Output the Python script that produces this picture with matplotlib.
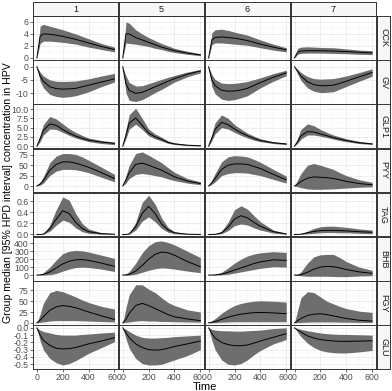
import matplotlib
matplotlib.use("Agg")
import matplotlib.pyplot as plt

plt.rcParams["axes.unicode_minus"] = False
plt.rcParams["font.family"] = ["Liberation Sans", "DejaVu Sans"]

# time grid (minutes) shared by all panels
TIME = [0, 25, 50, 100, 150, 200, 250, 300, 350, 400, 500, 600]
GROUPS = ["1", "5", "6", "7"]
MARKERS = ["CCK", "GV", "GLP1", "PYY", "TAG", "BHB", "FGY", "GLU"]

# one list per group (1, 5, 6, 7): median, lower and upper HPD bound
cck_med = [[0, 3.6, 4.0, 3.95, 3.8, 3.6, 3.35, 3.1, 2.8, 2.5, 1.9, 1.4],
           [0, 4.0, 4.0, 3.4, 3.0, 2.6, 2.2, 1.8, 1.5, 1.2, 0.8, 0.5],
           [0, 3.0, 3.4, 3.5, 3.4, 3.3, 3.1, 2.9, 2.6, 2.3, 1.8, 1.35],
           [0, 1.0, 1.15, 1.2, 1.2, 1.2, 1.18, 1.15, 1.1, 1.05, 0.95, 0.85]]
cck_lo = [[0, 2.4, 2.8, 2.8, 2.7, 2.6, 2.45, 2.3, 2.05, 1.8, 1.4, 1.0],
          [0, 2.5, 2.4, 2.3, 2.1, 1.9, 1.6, 1.4, 1.1, 0.9, 0.6, 0.35],
          [0, 2.2, 2.5, 2.5, 2.4, 2.3, 2.2, 2.1, 1.9, 1.7, 1.3, 1.0],
          [0, 0.6, 0.75, 0.8, 0.8, 0.8, 0.78, 0.75, 0.72, 0.7, 0.6, 0.55]]
cck_hi = [[0, 5.3, 5.6, 5.3, 5.0, 4.7, 4.35, 4.0, 3.6, 3.2, 2.4, 1.8],
          [0, 6.0, 5.8, 4.7, 4.0, 3.4, 2.9, 2.4, 2.0, 1.6, 1.1, 0.7],
          [0, 4.2, 4.7, 4.8, 4.6, 4.3, 4.05, 3.8, 3.4, 3.0, 2.3, 1.7],
          [0, 1.6, 1.8, 1.85, 1.8, 1.75, 1.72, 1.7, 1.6, 1.5, 1.3, 1.2]]

gv_med = [[0, -3.5, -5.5, -7.6, -8.3, -8.5, -8.4, -8.2, -7.6, -7.0, -5.8, -4.6],
          [0, -6.5, -9.0, -10.1, -9.7, -8.7, -7.6, -6.6, -5.5, -4.5, -2.8, -1.6],
          [0, -5.0, -7.2, -8.9, -9.3, -9.2, -8.8, -8.2, -7.1, -6.0, -4.0, -2.3],
          [0, -1.8, -3.5, -5.7, -6.8, -7.2, -7.2, -7.0, -6.3, -5.5, -3.8, -2.2]]
gv_lo = [[0, -5.5, -8.0, -10.5, -11.3, -11.6, -11.4, -11.0, -10.3, -9.5, -7.5, -5.8],
         [0, -10.0, -12.8, -13.2, -12.5, -11.2, -9.8, -8.6, -7.2, -5.8, -3.8, -2.3],
         [0, -7.5, -10.3, -12.3, -12.8, -12.5, -11.8, -11.0, -9.5, -8.0, -5.5, -3.4],
         [0, -2.8, -5.2, -8.0, -9.3, -9.8, -9.7, -9.5, -8.5, -7.5, -5.5, -3.6]]
gv_hi = [[0, -2.0, -3.5, -5.0, -5.5, -5.6, -5.5, -5.4, -5.0, -4.6, -3.5, -2.5],
         [0, -3.5, -6.0, -7.3, -7.2, -6.4, -5.6, -4.8, -4.0, -3.3, -2.0, -1.0],
         [0, -3.0, -4.8, -6.2, -6.4, -6.3, -6.0, -5.6, -4.9, -4.2, -2.6, -1.3],
         [0, -1.0, -2.2, -3.7, -4.5, -4.7, -4.6, -4.5, -4.0, -3.5, -2.2, -0.8]]

glp1_med = [[0, 2.0, 4.2, 6.0, 5.6, 4.5, 3.5, 2.7, 2.1, 1.6, 1.1, 0.75],
            [0, 3.0, 6.2, 7.6, 5.6, 3.5, 2.5, 1.8, 1.0, 0.6, 0.25, 0.1],
            [0, 2.2, 4.5, 6.4, 5.8, 4.6, 3.6, 2.8, 2.1, 1.5, 0.9, 0.6],
            [0, 1.3, 2.8, 3.9, 3.8, 3.3, 2.8, 2.3, 1.9, 1.5, 0.9, 0.6]]
glp1_lo = [[0, 1.2, 3.0, 4.6, 4.5, 3.7, 2.9, 2.2, 1.7, 1.2, 0.7, 0.4],
           [0, 2.0, 4.6, 5.9, 4.5, 2.8, 2.0, 1.4, 0.75, 0.45, 0.15, 0.05],
           [0, 1.5, 3.3, 5.0, 4.6, 3.7, 2.9, 2.2, 1.6, 1.2, 0.7, 0.4],
           [0, 0.8, 1.9, 3.0, 3.0, 2.7, 2.3, 1.9, 1.5, 1.2, 0.7, 0.45]]
glp1_hi = [[0, 3.0, 5.8, 8.0, 7.3, 6.0, 4.7, 3.7, 2.9, 2.2, 1.5, 1.1],
           [0, 4.5, 8.5, 10.2, 7.5, 4.6, 3.3, 2.4, 1.4, 0.9, 0.4, 0.2],
           [0, 3.3, 6.3, 8.4, 7.5, 5.8, 4.6, 3.5, 2.7, 2.0, 1.2, 0.8],
           [0, 2.2, 4.5, 6.0, 5.5, 4.5, 3.7, 3.0, 2.5, 2.0, 1.3, 0.85]]

pyy_med = [[0, 5, 13, 38, 52, 58, 58, 55, 50, 45, 32, 18],
           [0, 15, 32, 52, 55, 50, 44, 38, 30, 22, 12, 6],
           [0, 8, 18, 40, 50, 53, 53, 52, 47, 42, 28, 15],
           [0, 5, 11, 19, 22, 21, 20, 18, 15, 11, 6, 3]]
pyy_lo = [[0, 2, 7, 25, 36, 40, 40, 39, 36, 32, 21, 10],
          [0, 7, 18, 28, 30, 28, 25, 22, 17, 13, 7, 3],
          [0, 4, 10, 25, 30, 32, 32, 31, 28, 25, 16, 7],
          [0, -2, -4, -7, -8, -8, -7.5, -7, -6, -5, -3, -2]]
pyy_hi = [[0, 9, 22, 56, 72, 78, 78, 76, 70, 62, 45, 28],
          [0, 25, 50, 78, 82, 74, 65, 56, 44, 33, 18, 10],
          [0, 14, 30, 58, 70, 73, 72, 70, 64, 57, 40, 24],
          [0, 15, 30, 50, 54, 50, 45, 40, 32, 25, 15, 9]]

tag_med = [[0, 0, 0.005, 0.10, 0.28, 0.43, 0.38, 0.22, 0.11, 0.05, 0.015, 0.005],
           [0, 0, 0.01, 0.14, 0.38, 0.51, 0.38, 0.19, 0.08, 0.03, 0.005, 0],
           [0, 0, 0.002, 0.03, 0.13, 0.28, 0.34, 0.30, 0.22, 0.15, 0.05, 0.01],
           [0, 0, 0.005, 0.03, 0.055, 0.07, 0.075, 0.075, 0.07, 0.065, 0.05, 0.04]]
tag_lo = [[0, 0, 0.002, 0.06, 0.17, 0.26, 0.22, 0.12, 0.05, 0.02, 0.005, 0.002],
          [0, 0, 0.005, 0.08, 0.24, 0.32, 0.23, 0.11, 0.04, 0.015, 0.002, 0],
          [0, 0, 0.001, 0.015, 0.07, 0.16, 0.19, 0.17, 0.12, 0.08, 0.025, 0.005],
          [0, 0, 0.002, 0.012, 0.02, 0.03, 0.035, 0.035, 0.03, 0.03, 0.02, 0.015]]
tag_hi = [[0, 0, 0.01, 0.17, 0.45, 0.68, 0.62, 0.38, 0.2, 0.10, 0.03, 0.01],
          [0, 0, 0.02, 0.22, 0.58, 0.71, 0.55, 0.30, 0.13, 0.05, 0.01, 0.002],
          [0, 0, 0.004, 0.06, 0.22, 0.45, 0.52, 0.46, 0.34, 0.23, 0.08, 0.02],
          [0, 0, 0.01, 0.06, 0.11, 0.14, 0.15, 0.15, 0.14, 0.13, 0.10, 0.08]]

bhb_med = [[0, 2, 8, 40, 90, 140, 175, 192, 195, 185, 150, 110],
           [0, 2, 8, 50, 120, 200, 260, 290, 280, 250, 170, 105],
           [0, 0, 2, 12, 35, 62, 90, 117, 145, 166, 192, 185],
           [0, 0, 5, 35, 75, 100, 110, 105, 90, 70, 40, 22]]
bhb_lo = [[0, 0, 0, 5, 20, 50, 75, 95, 100, 95, 75, 45],
          [0, 0, 0, 10, 35, 60, 80, 90, 85, 75, 50, 30],
          [0, 0, 0, 2, 10, 25, 40, 55, 70, 85, 105, 100],
          [0, -5, -10, -15, -15, -15, -15, -18, -20, -20, -12, -8]]
bhb_hi = [[0, 10, 30, 100, 190, 270, 300, 310, 305, 290, 250, 210],
          [0, 15, 45, 150, 280, 370, 420, 430, 410, 380, 300, 220],
          [0, 2, 8, 35, 90, 150, 200, 240, 265, 280, 295, 285],
          [0, 10, 40, 150, 230, 255, 260, 260, 220, 170, 100, 60]]

fgy_med = [[0, 6, 14, 29, 37, 40, 38, 35, 30, 25, 16, 8],
           [0, 8, 22, 40, 45, 40, 33, 26, 19, 14, 9, 5],
           [0, 1, 3, 8, 13, 17, 20, 22, 23.5, 24, 23, 21],
           [0, 5, 10, 17, 20, 21, 19, 16, 13, 10, 6, 4]]
fgy_lo = [[0, 1, 2, 4, 5, 5, 5, 5, 4.5, 4, 3, 2],
          [0, 1, 2, 4, 5, 4, 4, 3, 3, 2.5, 2, 1.5],
          [0, 0, 0.5, 1.5, 2, 2.5, 2.5, 2.5, 2.5, 2.5, 2.5, 2.5],
          [0, 0.5, 1, 1.5, 2, 2, 2, 2, 1.5, 1.5, 1, 1]]
fgy_hi = [[0, 20, 45, 70, 75, 72, 66, 60, 53, 47, 38, 32],
          [0, 35, 65, 88, 88, 78, 70, 58, 47, 40, 30, 25],
          [0, 5, 10, 22, 32, 40, 45, 48, 50, 51, 50, 48],
          [0, 30, 58, 72, 70, 60, 50, 44, 38, 33, 27, 24]]

glu_med = [[0, -0.10, -0.17, -0.24, -0.28, -0.29, -0.285, -0.27, -0.245, -0.22, -0.18, -0.135],
           [0, -0.07, -0.135, -0.22, -0.27, -0.30, -0.305, -0.30, -0.28, -0.255, -0.22, -0.18],
           [0, -0.08, -0.14, -0.20, -0.23, -0.245, -0.245, -0.235, -0.21, -0.18, -0.13, -0.08],
           [0, -0.03, -0.06, -0.11, -0.14, -0.16, -0.172, -0.18, -0.185, -0.185, -0.182, -0.178]]
glu_lo = [[0, -0.18, -0.30, -0.42, -0.48, -0.51, -0.49, -0.45, -0.40, -0.35, -0.27, -0.19],
          [0, -0.15, -0.28, -0.42, -0.49, -0.51, -0.51, -0.50, -0.47, -0.44, -0.38, -0.30],
          [0, -0.17, -0.30, -0.44, -0.50, -0.51, -0.49, -0.44, -0.37, -0.31, -0.22, -0.16],
          [0, -0.06, -0.12, -0.21, -0.27, -0.31, -0.33, -0.34, -0.345, -0.345, -0.33, -0.31]]
glu_hi = [[0, -0.03, -0.05, -0.07, -0.09, -0.10, -0.10, -0.10, -0.09, -0.085, -0.07, -0.06],
          [0, -0.02, -0.05, -0.10, -0.13, -0.14, -0.14, -0.135, -0.13, -0.12, -0.11, -0.10],
          [0, -0.02, -0.03, -0.04, -0.04, -0.045, -0.045, -0.04, -0.035, -0.03, -0.01, 0.0],
          [0, -0.01, -0.02, -0.04, -0.055, -0.07, -0.08, -0.085, -0.09, -0.09, -0.095, -0.10]]

series = {
    "CCK": (cck_med, cck_lo, cck_hi),
    "GV": (gv_med, gv_lo, gv_hi),
    "GLP1": (glp1_med, glp1_lo, glp1_hi),
    "PYY": (pyy_med, pyy_lo, pyy_hi),
    "TAG": (tag_med, tag_lo, tag_hi),
    "BHB": (bhb_med, bhb_lo, bhb_hi),
    "FGY": (fgy_med, fgy_lo, fgy_hi),
    "GLU": (glu_med, glu_lo, glu_hi),
}

# per-row y axis settings (free scales)
ylims = {
    "CCK": (-0.3, 6.2), "GV": (-14.1, 0.9), "GLP1": (-0.52, 10.9),
    "PYY": (-15, 90), "TAG": (-0.036, 0.756), "BHB": (-70, 480),
    "FGY": (-4.6, 96.5), "GLU": (-0.565, 0.035),
}
yticks = {
    "CCK": ([0, 2, 4, 6], ["0", "2", "4", "6"]),
    "GV": ([-10, -5, 0], ["-10", "-5", "0"]),
    "GLP1": ([0, 2.5, 5, 7.5, 10], ["0.0", "2.5", "5.0", "7.5", "10.0"]),
    "PYY": ([0, 25, 50, 75], ["0", "25", "50", "75"]),
    "TAG": ([0, 0.2, 0.4, 0.6], ["0.0", "0.2", "0.4", "0.6"]),
    "BHB": ([0, 100, 200, 300, 400], ["0", "100", "200", "300", "400"]),
    "FGY": ([0, 25, 50, 75], ["0", "25", "50", "75"]),
    "GLU": ([0, -0.1, -0.2, -0.3, -0.4, -0.5],
            ["0.0", "-0.1", "-0.2", "-0.3", "-0.4", "-0.5"]),
}

W, H = 392, 391
fig = plt.figure(figsize=(W / 100, H / 100), dpi=100)

left, right, top, bottom = 33, 376, 16, 369
gap = 0.5
pw = (right - left - 3 * gap) / 4
ph = (bottom - top - 7 * gap) / 8


def frac(x0, y0, w, h):
    return [x0 / W, 1 - (y0 + h) / H, w / W, h / H]


border = "#333333"

for r, name in enumerate(MARKERS):
    med, lo, hi = series[name]
    ticks, labels = yticks[name]
    for c, g in enumerate(GROUPS):
        x0 = left + c * (pw + gap)
        y0 = top + r * (ph + gap)
        ax = fig.add_axes(frac(x0, y0, pw, ph))
        ax.fill_between(TIME, lo[c], hi[c], color="#6e6e6e", lw=0)
        ax.plot(TIME, med[c], color="black", lw=0.7)
        ax.set_xlim(-30, 630)
        ax.set_ylim(*ylims[name])
        ax.set_xticks([0, 200, 400, 600])
        ax.set_xticks([100, 300, 500], minor=True)
        ax.set_yticks(ticks)
        ax.set_yticklabels(labels)
        step = ticks[1] - ticks[0]
        ax.set_yticks([t + step / 2 for t in ticks], minor=True)
        ax.set_xticklabels(["0", "200", "400", "600"])
        ax.grid(which="major", color="#ebebeb", lw=0.6)
        ax.grid(which="minor", color="#f4f4f4", lw=0.35)
        ax.set_axisbelow(True)
        for s in ax.spines.values():
            s.set_color(border)
            s.set_linewidth(0.7)
        ax.tick_params(which="minor", length=0)
        ax.tick_params(which="major", length=2, width=0.5, color=border,
                       labelsize=6.3, labelcolor="#4d4d4d", pad=1)
        if c > 0:
            ax.tick_params(axis="y", length=0, labelleft=False)
        if r < 7:
            ax.tick_params(axis="x", length=0, labelbottom=False)

        # top strip with group label
        if r == 0:
            sx = fig.add_axes(frac(x0, 2, pw, top - 2))
            sx.set_facecolor("#f7f7f7")
            sx.set_xticks([])
            sx.set_yticks([])
            for s in sx.spines.values():
                s.set_color(border)
                s.set_linewidth(0.7)
            sx.text(0.5, 0.5, g, ha="center", va="center", fontsize=6.5,
                    color="#1a1a1a", transform=sx.transAxes)

    # right strip with marker label
    sy = fig.add_axes(frac(right + 1, top + r * (ph + gap), 13, ph))
    sy.set_facecolor("#f7f7f7")
    sy.set_xticks([])
    sy.set_yticks([])
    for s in sy.spines.values():
        s.set_color(border)
        s.set_linewidth(0.7)
    sy.text(0.5, 0.5, name, ha="center", va="center", fontsize=6.5,
            rotation=-90, color="#1a1a1a", transform=sy.transAxes)

fig.text((left + right) / 2 / W, 1 - 387.5 / H, "Time", ha="center",
         va="center", fontsize=8)
fig.text(8 / W, 1 - ((top + bottom) / 2) / H,
         "Group median [95% HPD interval] concentration in HPV",
         ha="center", va="center", rotation=90, fontsize=7.6)

fig.savefig("out.png", dpi=100)
